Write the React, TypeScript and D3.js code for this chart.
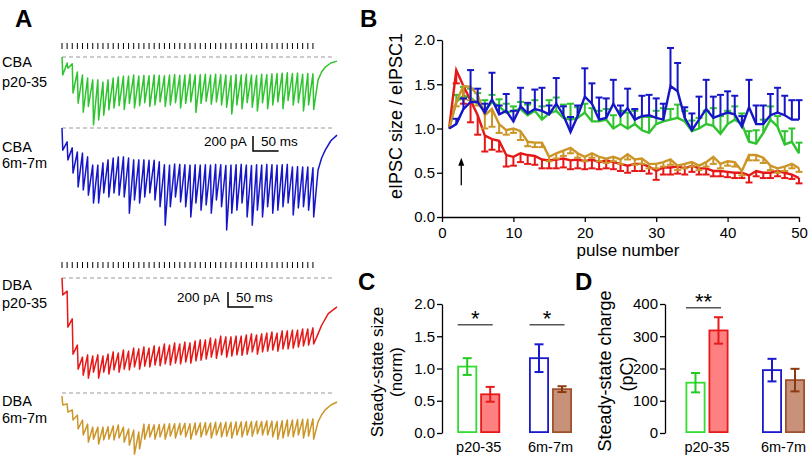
import React, { useEffect, useRef } from 'react';
import * as d3 from 'd3';

const FONT = "'Liberation Sans', Arial, Helvetica, sans-serif";

// ---------- Panel A: example current traces (pA) ----------
// level just before each pulse, and peak after each pulse (inward current, negative)
const PULSE_MS = 10; // 100 Hz train, 50 pulses
const pulseNumbers = d3.range(1, 51);

const cbaYoungTop = [0, -80, -90, -200, -240, -280, -305, -305, -335, -305, -280, -265, -255, -255, -240, -255, -245, -250, -240, -245, -250, -240, -235, -245, -240, -230, -240, -235, -230, -240, -230, -235, -240, -250, -235, -240, -230, -240, -245, -230, -235, -225, -220, -215, -210, -220, -215, -230, -220, -225];
const cbaYoungTrough = [-240, -150, -480, -615, -735, -660, -905, -840, -775, -705, -680, -650, -700, -620, -680, -650, -610, -660, -640, -600, -660, -640, -610, -680, -620, -600, -740, -620, -590, -630, -600, -640, -670, -760, -640, -690, -610, -670, -720, -610, -690, -640, -600, -690, -580, -640, -610, -720, -640, -700];
const cbaYoungTail = [[500, -305], [507, -200], [514, -135], [525, -80], [537, -55]];

const cbaOldTop = [0, -185, -265, -320, -335, -385, -495, -495, -465, -425, -400, -385, -385, -400, -425, -425, -425, -430, -430, -450, -490, -495, -480, -485, -490, -495, -490, -495, -490, -495, -485, -490, -500, -495, -490, -485, -495, -500, -490, -495, -485, -490, -495, -490, -485, -520, -515, -520, -520, -530];
const cbaOldTrough = [-295, -425, -600, -785, -825, -895, -1000, -1000, -865, -920, -865, -895, -920, -1135, -960, -1000, -920, -865, -960, -1050, -1295, -1050, -920, -985, -1050, -1185, -1000, -1095, -1025, -1135, -960, -1050, -1360, -1135, -1095, -1000, -1185, -1295, -1095, -1185, -1050, -1135, -1095, -1050, -1000, -1160, -1065, -1050, -1095, -1185];
const cbaOldTail = [[500, -560], [507, -400], [514, -295], [525, -170], [537, -95]];

const dbaYoungTop = [0, -175, -545, -895, -1055, -1025, -1040, -1025, -1040, -1015, -985, -1000, -960, -975, -935, -945, -920, -935, -905, -920, -880, -895, -865, -880, -855, -865, -840, -825, -825, -800, -815, -775, -785, -785, -775, -775, -760, -745, -760, -745, -735, -720, -735, -705, -705, -695, -695, -680, -680, -665];
const dbaYoungTrough = [-225, -655, -1015, -1215, -1295, -1335, -1255, -1335, -1255, -1280, -1225, -1255, -1215, -1225, -1185, -1215, -1175, -1185, -1160, -1170, -1145, -1160, -1135, -1145, -1120, -1135, -1105, -1095, -1080, -1055, -1070, -1025, -1055, -1040, -1025, -1030, -1015, -985, -1015, -985, -975, -960, -975, -945, -945, -935, -920, -905, -895, -880];
const dbaYoungTail = [[500, -745], [507, -630], [520, -475], [537, -385]];

const dbaOldTop = [-40, -145, -225, -295, -360, -415, -455, -455, -455, -450, -440, -425, -455, -480, -495, -520, -415, -420, -425, -420, -415, -410, -410, -405, -405, -410, -400, -400, -395, -400, -390, -395, -390, -390, -385, -385, -380, -380, -375, -380, -370, -375, -380, -370, -360, -360, -355, -350, -350, -345];
const dbaOldTrough = [-160, -255, -360, -480, -560, -655, -615, -680, -625, -615, -625, -600, -655, -695, -815, -745, -615, -585, -615, -585, -615, -575, -600, -560, -585, -615, -560, -585, -560, -600, -560, -585, -575, -600, -560, -585, -560, -575, -545, -560, -560, -585, -615, -600, -575, -585, -560, -600, -575, -615];
const dbaOldTail = [[500, -385], [507, -290], [514, -225], [525, -160], [537, -120]];

// ---------- Panel B: eIPSC size / eIPSC1 (mean, sem) ----------
const cbaYoungNorm = [1.00, 1.30, 1.37, 1.35, 1.28, 1.20, 1.30, 1.25, 1.18, 1.20, 1.22, 1.15, 1.20, 1.10, 1.17, 1.20, 1.12, 1.10, 1.12, 1.18, 1.08, 1.08, 1.10, 1.00, 1.05, 1.00, 1.05, 0.98, 0.95, 1.05, 1.08, 1.10, 1.12, 1.08, 0.97, 1.00, 1.05, 1.03, 0.94, 1.05, 1.10, 1.05, 0.85, 0.83, 0.95, 1.10, 1.02, 0.82, 0.85, 0.72];
const cbaYoungNormErr = [0, 0.08, 0.10, 0.10, 0.12, 0.12, 0.08, 0.08, 0.10, 0.05, 0.08, 0.12, 0.12, 0.15, 0.15, 0.15, 0.15, 0.18, 0.12, 0.10, 0.15, 0.12, 0.12, 0.15, 0.15, 0.18, 0.15, 0.15, 0.18, 0.15, 0.15, 0.12, 0.15, 0.12, 0.12, 0.12, 0.15, 0.20, 0.20, 0.15, 0.15, 0.12, 0.12, 0.15, 0.15, 0.15, 0.12, 0.15, 0.15, 0.12];

const cbaOldNorm = [1.00, 1.05, 1.22, 1.30, 1.30, 1.18, 1.33, 1.16, 1.20, 1.08, 1.25, 1.17, 1.22, 1.20, 1.16, 1.28, 1.15, 0.96, 1.14, 1.36, 1.28, 1.10, 1.12, 1.28, 1.14, 1.23, 1.10, 1.14, 1.15, 1.12, 1.10, 1.48, 1.42, 1.12, 0.98, 1.10, 1.22, 1.12, 1.15, 1.18, 1.16, 1.02, 1.24, 1.05, 1.05, 1.15, 1.18, 1.15, 1.10, 1.10];
const cbaOldNormErr = [0, 0.06, 0.12, 0.36, 0.15, 0.10, 0.30, 0.10, 0.19, 0.12, 0.21, 0.12, 0.22, 0.26, 0.10, 0.29, 0.10, 0.17, 0.12, 0.32, 0.23, 0.25, 0.22, 0.27, 0.12, 0.22, 0.12, 0.23, 0.23, 0.22, 0.18, 0.43, 0.32, 0.12, 0.19, 0.26, 0.33, 0.24, 0.23, 0.24, 0.21, 0.12, 0.31, 0.21, 0.21, 0.24, 0.28, 0.22, 0.22, 0.22];

const dbaYoungNorm = [1.00, 1.66, 1.48, 1.32, 1.15, 0.92, 0.88, 0.86, 0.70, 0.68, 0.72, 0.70, 0.69, 0.65, 0.64, 0.65, 0.66, 0.64, 0.65, 0.63, 0.65, 0.62, 0.64, 0.62, 0.60, 0.58, 0.60, 0.60, 0.57, 0.52, 0.56, 0.56, 0.57, 0.55, 0.58, 0.55, 0.55, 0.52, 0.52, 0.51, 0.50, 0.50, 0.47, 0.52, 0.50, 0.50, 0.52, 0.50, 0.48, 0.44];
const dbaYoungNormErr = [0, 0.15, 0.20, 0.25, 0.22, 0.18, 0.12, 0.12, 0.13, 0.10, 0.10, 0.10, 0.10, 0.10, 0.09, 0.10, 0.10, 0.10, 0.10, 0.09, 0.10, 0.08, 0.09, 0.08, 0.08, 0.08, 0.08, 0.08, 0.08, 0.10, 0.08, 0.08, 0.08, 0.07, 0.07, 0.07, 0.07, 0.06, 0.06, 0.06, 0.06, 0.06, 0.08, 0.06, 0.06, 0.06, 0.06, 0.06, 0.05, 0.06];

const dbaOldNorm = [1.00, 1.30, 1.48, 1.47, 1.38, 1.15, 1.22, 1.05, 0.98, 1.00, 0.97, 0.85, 0.84, 0.84, 0.68, 0.72, 0.75, 0.78, 0.72, 0.68, 0.72, 0.68, 0.66, 0.68, 0.65, 0.71, 0.65, 0.66, 0.60, 0.60, 0.62, 0.65, 0.58, 0.60, 0.62, 0.58, 0.62, 0.68, 0.60, 0.63, 0.62, 0.52, 0.70, 0.70, 0.67, 0.58, 0.55, 0.57, 0.60, 0.55];
const dbaOldNormErr = [0, 0.05, 0.15, 0.15, 0.12, 0.15, 0.20, 0.10, 0.05, 0.05, 0.10, 0.05, 0.05, 0.05, 0.05, 0.06, 0.06, 0.06, 0.05, 0.05, 0.05, 0.05, 0.05, 0.05, 0.05, 0.06, 0.06, 0.06, 0.05, 0.05, 0.05, 0.06, 0.05, 0.05, 0.05, 0.05, 0.05, 0.08, 0.05, 0.05, 0.05, 0.05, 0.06, 0.06, 0.06, 0.05, 0.05, 0.05, 0.05, 0.04];

const arrowPulse = 2.7;
const arrowFrom = 0.36;
const arrowTo = 0.67;

// ---------- Panels C, D: steady state ----------
const ageGroups = ['p20-35', '6m-7m'];
const ssSizeCBA = [1.03, 1.16];
const ssSizeCBAErr = [0.13, 0.215];
const ssSizeDBA = [0.60, 0.68];
const ssSizeDBAErr = [0.115, 0.045];
const ssChargeCBA = [156, 195];
const ssChargeCBAErr = [30, 35];
const ssChargeDBA = [318, 164];
const ssChargeDBAErr = [41, 35];
const sizeSig = [{ group: 'p20-35', y: 1.68, label: '*' }, { group: '6m-7m', y: 1.68, label: '*' }];
const chargeSig = [{ group: 'p20-35', y: 388, label: '**' }];

const C_GREEN = '#2fc42f';
const C_BLUE = '#1616c8';
const C_RED = '#e61717';
const C_GOLD = '#cc9528';

export default function App() {
  const ref = useRef<SVGSVGElement>(null);

  useEffect(() => {
    const svg = d3.select(ref.current);
    svg.selectAll('*').remove();

    const text = (x: number, y: number, s: string, size: number, opts: any = {}) =>
      svg.append('text')
        .attr('x', x).attr('y', y)
        .attr('font-family', FONT)
        .attr('font-size', size)
        .attr('font-weight', opts.bold ? 'bold' : null)
        .attr('text-anchor', opts.anchor || 'start')
        .attr('transform', opts.rotate ? `rotate(-90,${x},${y})` : null)
        .attr('fill', '#000')
        .text(s);

    const styleAxis = (g: any) => {
      g.attr('font-family', FONT).attr('font-size', 15);
      g.selectAll('path, line').attr('stroke', '#000').attr('stroke-width', 1.3);
      g.selectAll('text').attr('fill', '#000');
    };

    // panel letters
    text(15, 27, 'A', 24, { bold: true });
    text(360, 27, 'B', 24, { bold: true });
    text(358, 290, 'C', 24, { bold: true });
    text(575, 290, 'D', 24, { bold: true });

    // ================= Panel A =================
    const xT = d3.scaleLinear().domain([0, 537]).range([62, 337]);
    const traces = [
      { top: cbaYoungTop, trough: cbaYoungTrough, tail: cbaYoungTail, color: C_GREEN, base: 57 },
      { top: cbaOldTop, trough: cbaOldTrough, tail: cbaOldTail, color: C_BLUE, base: 128 },
      { top: dbaYoungTop, trough: dbaYoungTrough, tail: dbaYoungTail, color: C_RED, base: 278 },
      { top: dbaOldTop, trough: dbaOldTrough, tail: dbaOldTail, color: C_GOLD, base: 393 },
    ];

    // stimulus ticks
    [43, 262].forEach(ty => {
      svg.append('g').selectAll('line').data(pulseNumbers).join('line')
        .attr('x1', d => xT((d - 1) * PULSE_MS)).attr('x2', d => xT((d - 1) * PULSE_MS))
        .attr('y1', ty).attr('y2', ty + 6)
        .attr('stroke', '#000').attr('stroke-width', 1);
    });

    traces.forEach(tr => {
      const yT = d3.scaleLinear().domain([0, -200]).range([tr.base, tr.base + 15]);
      svg.append('line')
        .attr('x1', xT(0)).attr('x2', xT(532))
        .attr('y1', yT(0)).attr('y2', yT(0))
        .attr('stroke', '#999').attr('stroke-width', 1).attr('stroke-dasharray', '4,3');
      const pts: [number, number][] = [];
      tr.top.forEach((v, i) => {
        const t = i * PULSE_MS;
        pts.push([t, v]);
        pts.push([t + 1.5, tr.trough[i]]);
      });
      tr.tail.forEach(p => pts.push([p[0], p[1]]));
      const line = d3.line<[number, number]>().x(d => xT(d[0])).y(d => yT(d[1]));
      svg.append('path').attr('d', line(pts)).attr('fill', 'none')
        .attr('stroke', tr.color).attr('stroke-width', 1.5).attr('stroke-linejoin', 'round');
    });

    // scale bars
    const scaleBar = (x0: number, yBottom: number, label1x: number) => {
      const ys = d3.scaleLinear().domain([0, 200]).range([yBottom, yBottom - 15]);
      const xs = d3.scaleLinear().domain([0, 50]).range([x0, x0 + 25.6]);
      svg.append('path')
        .attr('d', `M${x0},${ys(200)}V${ys(0)}H${xs(50)}`)
        .attr('fill', 'none').attr('stroke', '#000').attr('stroke-width', 1.5);
      text(label1x, yBottom - 5, '200 pA', 13.5);
      text(x0 + 8, yBottom - 5, '50 ms', 13.5);
    };
    scaleBar(253, 151, 204);
    scaleBar(228, 307, 177);

    // labels
    text(2, 67, 'CBA', 14.5);
    text(2, 87, 'p20-35', 14.5);
    text(2, 152, 'CBA', 14.5);
    text(2, 168, '6m-7m', 14.5);
    text(2, 290, 'DBA', 14.5);
    text(2, 308, 'p20-35', 14.5);
    text(2, 406, 'DBA', 14.5);
    text(2, 423, '6m-7m', 14.5);

    // ================= Panel B =================
    const xB = d3.scaleLinear().domain([0, 50]).range([442, 799]);
    const yB = d3.scaleLinear().domain([0, 2]).range([217, 40]);

    const gx = svg.append('g').attr('transform', 'translate(0,217)')
      .call(d3.axisBottom(xB).tickValues([0, 10, 20, 30, 40, 50]).tickSize(5).tickSizeOuter(0).tickPadding(5));
    styleAxis(gx);
    const gy = svg.append('g').attr('transform', 'translate(442,0)')
      .call(d3.axisLeft(yB).tickValues([0, 0.5, 1, 1.5, 2]).tickFormat(d3.format('.1f')).tickSize(5).tickSizeOuter(0).tickPadding(2));
    styleAxis(gy);

    text(628, 256, 'pulse number', 17, { anchor: 'middle' });
    text(402, 116, 'eIPSC size / eIPSC1', 18, { anchor: 'middle', rotate: true });

    const series = [
      { mean: cbaYoungNorm, err: cbaYoungNormErr, dir: 1, color: C_GREEN },
      { mean: dbaYoungNorm, err: dbaYoungNormErr, dir: -1, color: C_RED },
      { mean: dbaOldNorm, err: dbaOldNormErr, dir: -1, color: C_GOLD },
      { mean: cbaOldNorm, err: cbaOldNormErr, dir: 1, color: C_BLUE },
    ];
    series.forEach(s => {
      const g = svg.append('g');
      pulseNumbers.forEach((n, i) => {
        if (!s.err[i]) return;
        const y0 = yB(s.mean[i]);
        const y1 = yB(s.mean[i] + s.dir * s.err[i]);
        g.append('line').attr('x1', xB(n)).attr('x2', xB(n)).attr('y1', y0).attr('y2', y1)
          .attr('stroke', s.color).attr('stroke-width', 2);
        g.append('line').attr('x1', xB(n) - 3.5).attr('x2', xB(n) + 3.5).attr('y1', y1).attr('y2', y1)
          .attr('stroke', s.color).attr('stroke-width', 2);
      });
      const line = d3.line<number>().x((_, i) => xB(pulseNumbers[i])).y(d => yB(d));
      g.append('path').attr('d', line(s.mean)).attr('fill', 'none')
        .attr('stroke', s.color).attr('stroke-width', 2.4).attr('stroke-linejoin', 'miter');
    });

    // arrow
    const ax = xB(arrowPulse);
    svg.append('line').attr('x1', ax).attr('x2', ax).attr('y1', yB(arrowFrom)).attr('y2', yB(arrowTo) + 6)
      .attr('stroke', '#000').attr('stroke-width', 1.3);
    svg.append('path')
      .attr('d', `M${ax},${yB(arrowTo)}L${ax - 3},${yB(arrowTo) + 8}L${ax + 3},${yB(arrowTo) + 8}Z`)
      .attr('fill', '#000');

    // ================= Panels C & D =================
    const barPanel = (
      axisX: number, centers: [number, number], yScale: d3.ScaleLinear<number, number>,
      ticks: number[], fmt: (d: number) => string,
      cba: number[], cbaErr: number[], dba: number[], dbaErr: number[], sig: any[]
    ) => {
      const g = svg.append('g').attr('transform', `translate(${axisX},0)`)
        .call(d3.axisLeft(yScale).tickValues(ticks).tickFormat(fmt as any).tickSize(5).tickSizeOuter(0).tickPadding(2));
      styleAxis(g);
      const xg = d3.scalePoint().domain(ageGroups).range(centers);
      const styles = [
        [{ fill: '#fff', stroke: '#33dd33', err: '#22cc22' }, { fill: '#ff8080', stroke: '#e61a1a', err: '#e61a1a' }],
        [{ fill: '#fff', stroke: '#1a1acc', err: '#1a1acc' }, { fill: '#c8927a', stroke: '#a0522d', err: '#8b3a10' }],
      ];
      ageGroups.forEach((grp, gi) => {
        const c = xg(grp) as number;
        [[cba[gi], cbaErr[gi], -21.5], [dba[gi], dbaErr[gi], 1.5]].forEach(([v, e, off], k) => {
          const st = styles[gi][k];
          svg.append('rect')
            .attr('x', c + off + 0.9).attr('y', yScale(v))
            .attr('width', 18.2).attr('height', yScale(0) - yScale(v) - 0.9)
            .attr('fill', st.fill).attr('stroke', st.stroke).attr('stroke-width', 1.8);
          const cx = c + off + 10;
          svg.append('line').attr('x1', cx).attr('x2', cx).attr('y1', yScale(v - e)).attr('y2', yScale(v + e))
            .attr('stroke', st.err).attr('stroke-width', 2);
          [v - e, v + e].forEach(w => {
            svg.append('line').attr('x1', cx - 4.5).attr('x2', cx + 4.5).attr('y1', yScale(w)).attr('y2', yScale(w))
              .attr('stroke', st.err).attr('stroke-width', 2);
          });
        });
        text(c, 452, grp, 14.5, { anchor: 'middle' });
      });
      sig.forEach(s => {
        const c = xg(s.group) as number;
        svg.append('line').attr('x1', c - 21).attr('x2', c + 14).attr('y1', yScale(s.y)).attr('y2', yScale(s.y))
          .attr('stroke', '#555').attr('stroke-width', 1.5);
        text(c - 3.5, yScale(s.y) + 1, s.label, 22, { anchor: 'middle' });
      });
    };

    const yC = d3.scaleLinear().domain([0, 2]).range([433, 304]);
    barPanel(442, [478.7, 550.5], yC, [0, 0.5, 1, 1.5, 2], d3.format('.1f'),
      ssSizeCBA, ssSizeCBAErr, ssSizeDBA, ssSizeDBAErr, sizeSig);
    text(383, 372, 'Steady-state size', 17, { anchor: 'middle', rotate: true });
    text(402, 372, '(norm)', 17, { anchor: 'middle', rotate: true });

    const yD = d3.scaleLinear().domain([0, 400]).range([433, 304]);
    barPanel(665, [707, 783.5], yD, [0, 100, 200, 300, 400], d3.format('d'),
      ssChargeCBA, ssChargeCBAErr, ssChargeDBA, ssChargeDBAErr, chargeSig);
    text(611, 371, 'Steady-state charge', 18, { anchor: 'middle', rotate: true });
    text(633, 374, '(pC)', 18, { anchor: 'middle', rotate: true });
  }, []);

  return (
    <svg ref={ref} width={810} height={457}
      style={{ position: 'absolute', left: 0, top: 0, background: '#fff', display: 'block' }} />
  );
}
